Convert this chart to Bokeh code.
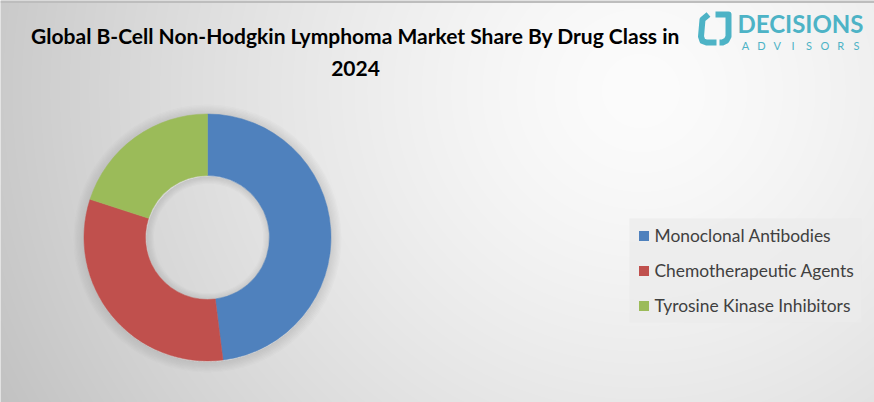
import numpy as np
from bokeh.plotting import figure
from bokeh.models import Range1d
from bokeh.core.properties import value
from bokeh.embed import file_html
from bokeh.resources import INLINE

# ---- data ----
categories = ["Monoclonal Antibodies", "Chemotherapeutic Agents", "Tyrosine Kinase Inhibitors"]
shares = [48, 32, 20]
colors = ["#4F81BD", "#C0504D", "#9BBB59"]
title_lines = ["Global B-Cell Non-Hodgkin Lymphoma Market Share By Drug Class in", "2024"]
logo_word = "DECISIONS"
logo_sub = "ADVISORS"

W, H = 874, 402

def X(rx):
    return rx

def Y(ry):
    return H - ry

p = figure(width=W, height=H, output_backend="svg", toolbar_location=None,
           x_range=Range1d(0, W), y_range=Range1d(0, H), min_border=0)
p.axis.visible = False
p.grid.visible = False
p.outline_line_color = None
p.background_fill_color = "#dcdcdc"
p.border_fill_color = "#dcdcdc"

# ---- background radial gradient ----
yy, xx = np.mgrid[0:H, 0:W]
rx = xx.astype(float)
ry = (H - 1 - yy).astype(float)  # image row 0 is at bottom of data space
d = np.sqrt((rx - 640.0) ** 2 + ((ry - 90.0) * 1.05) ** 2) / 720.0
v = np.clip(252 - 58 * np.clip(d, 0, 1.2) ** 1.4, 180, 255).astype(np.uint32)
img = (255 << 24) | (v << 16) | (v << 8) | v
p.image_rgba(image=[img.astype(np.uint32)], x=0, y=0, dw=W, dh=H)
# top frame strip
p.quad(left=0, right=W, bottom=Y(2.5), top=H, fill_color="#bdbdbd", line_color=None)

# ---- donut ----
cx, cy = X(207), Y(237)
r_out, r_in = 123.5, 62
total = float(sum(shares))
fr = np.array(shares) / total
ends = np.cumsum(fr)
starts = np.concatenate([[0], ends[:-1]])
start_ang = np.pi / 2 - 2 * np.pi * starts
end_ang = np.pi / 2 - 2 * np.pi * ends

# soft shadow
for k in range(1, 9):
    p.annulus(x=cx, y=cy - 1, inner_radius=r_out, outer_radius=r_out + k * 1.3,
              fill_color="#808080", fill_alpha=0.035, line_color=None)
for k in range(1, 7):
    p.annulus(x=cx + 1, y=cy - 1, inner_radius=r_in - k * 1.2, outer_radius=r_in,
              fill_color="#808080", fill_alpha=0.04, line_color=None)

p.annular_wedge(x=[cx] * 3, y=[cy] * 3, inner_radius=r_in, outer_radius=r_out,
                start_angle=start_ang, end_angle=end_ang, direction="clock",
                fill_color=colors, line_color=colors, line_width=0.5)

# ---- title ----
p.text(x=[X(355), X(355)], y=[Y(35), Y(68)], text=title_lines,
       text_font=value("Lato"), text_font_style="bold", text_font_size="21px",
       text_color="#000000", text_align="center", text_baseline="middle")

# ---- legend ----
p.quad(left=X(629), right=X(861), bottom=Y(322), top=Y(218),
       fill_color="#ebebeb", fill_alpha=0.75, line_color=None)
rows_y = [Y(235.5 + 35 * i) for i in range(len(categories))]
p.rect(x=[X(643.5)] * 3, y=rows_y, width=10, height=10, fill_color=colors, line_color=None)
p.text(x=[X(654)] * 3, y=[r + 0.5 for r in rows_y], text=categories,
       text_font=value("Lato"), text_font_size="17.4px", text_color="#404040",
       text_align="left", text_baseline="middle")

# ---- logo ----
teal = "#4DB3C6"
p.multi_line(xs=[[X(708), X(702), X(700.5), X(702), X(706), X(716)],
                 [X(715), X(728), X(728), X(726), X(722), X(719)]],
             ys=[[Y(14), Y(19), Y(36), Y(40.5), Y(42), Y(42)],
                 [Y(14), Y(14), Y(36), Y(40), Y(42), Y(42)]],
             line_color=teal, line_width=6, line_join="round", line_cap="butt")
p.text(x=[X(800)], y=[Y(23)], text=[logo_word], text_font=value("Lato"),
       text_font_style="bold", text_font_size="24px", text_color=teal,
       text_align="center", text_baseline="middle")
sub_x = np.linspace(X(745), X(856), len(logo_sub))
p.text(x=sub_x, y=[Y(44.5)] * len(logo_sub), text=list(logo_sub), text_font=value("Lato"),
       text_font_size="11px", text_color=teal, text_align="center", text_baseline="middle")

open("out.html", "w").write(file_html(p, INLINE))
